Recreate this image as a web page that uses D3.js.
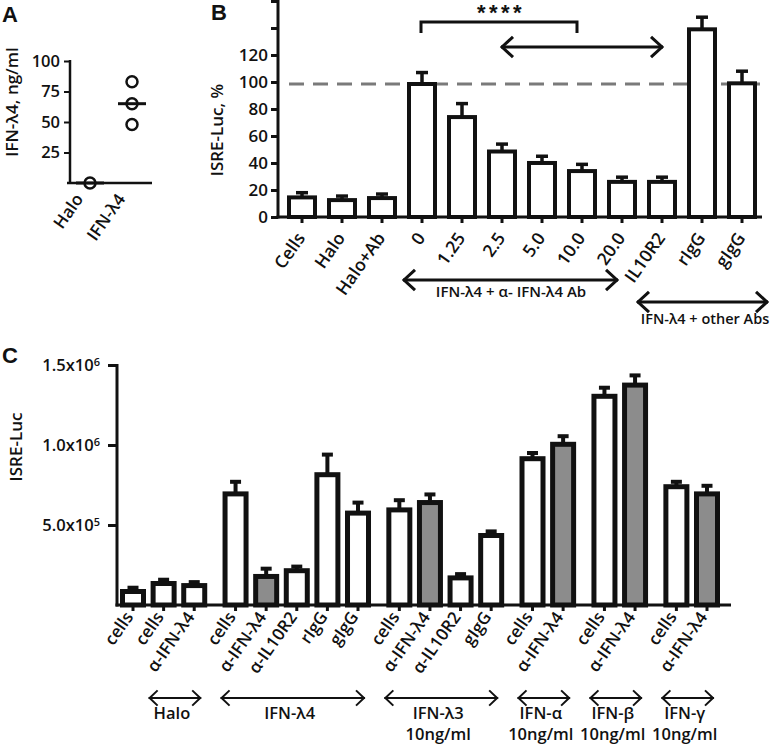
<!DOCTYPE html>
<html><head><meta charset="utf-8">
<script src="https://cdn.jsdelivr.net/npm/d3@7"></script>
<style>
body{margin:0;background:#fff}
text{font-family:"Open Sans",sans-serif;fill:#111}
</style>
</head><body>
<svg id="chart" width="771" height="745"></svg>
<script>
// ---------- Panel A data ----------
const aCategories = ["Halo", "IFN-λ4"];
const aPointGroup = ["Halo", "IFN-λ4", "IFN-λ4", "IFN-λ4"];
const aPointValue = [0, 83, 65, 48];
const aMedian = [0, 65];
const aTicks = [25, 50, 75, 100];

// ---------- Panel B data ----------
const bCategories = ["Cells","Halo","Halo+Ab","0","1.25","2.5","5.0","10.0","20.0","IL10R2","rIgG","gIgG"];
const bValues = [16, 14, 15.5, 100, 75.5, 50, 41.5, 35.5, 27.5, 27.5, 140.5, 100.5];
const bErrors = [2, 1.5, 1.5, 7, 8.5, 4, 3.5, 3.5, 2, 2, 7.5, 7.5];
const bTicks = [0, 20, 40, 60, 80, 100, 120, 140, 160];
const bTickLabels = ["0","20","40","60","80","100","120","",""];
const bReference = 98.5;

// ---------- Panel C data ----------
const cCategories = ["cells","cells","α-IFN-λ4","cells","α-IFN-λ4","α-IL10R2","rIgG","gIgG","cells","α-IFN-λ4","α-IL10R2","gIgG","cells","α-IFN-λ4","cells","α-IFN-λ4","cells","α-IFN-λ4"];
const cCluster = [0,0,0,1,1,1,1,1,2,2,2,2,3,3,4,4,5,5];
const cValues = [0.10e6,0.15e6,0.137e6,0.71e6,0.194e6,0.23e6,0.83e6,0.59e6,0.61e6,0.656e6,0.185e6,0.45e6,0.93e6,1.02e6,1.32e6,1.39e6,0.755e6,0.71e6];
const cErrors = [0.008e6,0.008e6,0.006e6,0.06e6,0.033e6,0.01e6,0.11e6,0.05e6,0.045e6,0.035e6,0.008e6,0.01e6,0.02e6,0.035e6,0.038e6,0.045e6,0.015e6,0.035e6];
const cAntiIFN = [false,false,false,false,true,false,false,false,false,true,false,false,false,true,false,true,false,true];
const cTicks = [0.5e6, 1.0e6, 1.5e6];
const cGroupNames = ["Halo","IFN-λ4","IFN-λ3","IFN-α","IFN-β","IFN-γ"];
const cGroupSub = ["","","10ng/ml","10ng/ml","10ng/ml","10ng/ml"];
const cGroupFirst = [1,3,8,12,14,16];
const cGroupLast = [2,7,11,13,15,17];

const svg = d3.select("#chart");
const INK = "#111";
const GRAY = "#8c8c8c";
const ANG = -55;

function doubleArrow(g, x1, x2, y, head, sw) {
  g.append("line").attr("x1", x1).attr("x2", x2).attr("y1", y).attr("y2", y)
    .attr("stroke", INK).attr("stroke-width", sw);
  const p = d3.path();
  p.moveTo(x1 + head, y - head * 0.85); p.lineTo(x1 + 1, y); p.lineTo(x1 + head, y + head * 0.85);
  p.moveTo(x2 - head, y - head * 0.85); p.lineTo(x2 - 1, y); p.lineTo(x2 - head, y + head * 0.85);
  g.append("path").attr("d", p.toString()).attr("fill", "none")
    .attr("stroke", INK).attr("stroke-width", sw).attr("stroke-linejoin", "miter");
}

// panel letters
[["A", 2, 22], ["B", 211, 20], ["C", 2, 363]].forEach(([t, x, y]) =>
  svg.append("text").attr("x", x).attr("y", y).text(t)
    .style("font-family", "Liberation Sans, Arial, sans-serif")
    .style("font-weight", "bold").style("font-size", "22px"));

// ================= Panel A =================
{
  const g = svg.append("g");
  const y = d3.scaleLinear().domain([0, 100]).range([183, 61]);
  const x = d3.scalePoint().domain(aCategories).range([69, 153]).padding(0.5);
  const ax = g.append("g").attr("transform", "translate(70,0)")
    .call(d3.axisLeft(y).tickValues(aTicks).tickSize(6).tickSizeOuter(0).tickPadding(4));
  ax.select(".domain").remove();
  ax.selectAll(".tick line").attr("stroke", INK).attr("stroke-width", 2);
  ax.selectAll(".tick text").style("font-size", "16.5px").style("font-weight", 600).style("font-family", "Open Sans");
  g.append("line").attr("x1", 70).attr("x2", 70).attr("y1", 60).attr("y2", 184).attr("stroke", INK).attr("stroke-width", 2.5);
  g.append("line").attr("x1", 67).attr("x2", 152).attr("y1", 183).attr("y2", 183).attr("stroke", INK).attr("stroke-width", 2.5);
  g.selectAll("line.med").data(aCategories).join("line").attr("class", "med")
    .attr("x1", d => x(d) - 14).attr("x2", d => x(d) + 14)
    .attr("y1", (d, i) => y(aMedian[i])).attr("y2", (d, i) => y(aMedian[i]))
    .attr("stroke", INK).attr("stroke-width", 3);
  g.selectAll("circle").data(aPointValue).join("circle")
    .attr("cx", (d, i) => x(aPointGroup[i])).attr("cy", d => y(d)).attr("r", 5.5)
    .attr("fill", "none").attr("stroke", INK).attr("stroke-width", 2.5);
  g.selectAll("text.xl").data(aCategories).join("text").attr("class", "xl")
    .attr("transform", d => `translate(${x(d) - 6},${199}) rotate(${ANG})`)
    .attr("text-anchor", "end").style("font-size", "17px").style("font-weight", 600).text(d => d);
  g.append("text").attr("transform", "translate(18,102) rotate(-90)").attr("text-anchor", "middle")
    .style("font-size", "17px").style("font-weight", 600).text("IFN-λ4, ng/ml");
}

// ================= Panel B =================
{
  const g = svg.append("g");
  const y = d3.scaleLinear().domain([0, 160]).range([217, 1]);
  const x = d3.scaleBand().domain(bCategories).range([282, 762]).paddingInner(0.25).paddingOuter(0.125);
  const bw = x.bandwidth(), sw = 4;
  const ay = g.append("g").attr("transform", "translate(278,0)")
    .call(d3.axisLeft(y).tickValues(bTicks).tickFormat((d, i) => bTickLabels[i]).tickSize(7).tickSizeOuter(0).tickPadding(3));
  ay.select(".domain").remove();
  ay.selectAll(".tick line").attr("stroke", INK).attr("stroke-width", 3);
  ay.selectAll(".tick text").style("font-size", "17px").style("font-weight", 600).style("font-family", "Open Sans");
  g.append("line").attr("x1", 289).attr("x2", 766).attr("y1", y(bReference)).attr("y2", y(bReference))
    .attr("stroke", "#7a7a7a").attr("stroke-width", 3).attr("stroke-dasharray", "15,9");
  g.selectAll("rect").data(bValues).join("rect")
    .attr("x", (d, i) => x(bCategories[i]) + sw / 2).attr("width", bw - sw)
    .attr("y", d => y(d) + sw / 2).attr("height", d => y(0) - y(d) - sw / 2)
    .attr("fill", "#fff").attr("stroke", INK).attr("stroke-width", sw);
  const cx = c => x(c) + bw / 2;
  g.selectAll("line.err").data(bValues).join("line").attr("class", "err")
    .attr("x1", (d, i) => cx(bCategories[i])).attr("x2", (d, i) => cx(bCategories[i]))
    .attr("y1", d => y(d) + 1).attr("y2", (d, i) => y(d + bErrors[i]))
    .attr("stroke", INK).attr("stroke-width", 3.5);
  g.selectAll("line.cap").data(bValues).join("line").attr("class", "cap")
    .attr("x1", (d, i) => cx(bCategories[i]) - 6).attr("x2", (d, i) => cx(bCategories[i]) + 6)
    .attr("y1", (d, i) => y(d + bErrors[i])).attr("y2", (d, i) => y(d + bErrors[i]))
    .attr("stroke", INK).attr("stroke-width", 3.5);
  g.append("line").attr("x1", 278).attr("x2", 278).attr("y1", 0).attr("y2", 218.5).attr("stroke", INK).attr("stroke-width", 3);
  g.append("line").attr("x1", 276.5).attr("x2", 762).attr("y1", 217).attr("y2", 217).attr("stroke", INK).attr("stroke-width", 3);
  g.selectAll("line.xt").data(bCategories).join("line").attr("class", "xt")
    .attr("x1", d => cx(d)).attr("x2", d => cx(d)).attr("y1", 217).attr("y2", 223)
    .attr("stroke", INK).attr("stroke-width", 3);
  g.selectAll("text.xl").data(bCategories).join("text").attr("class", "xl")
    .attr("transform", d => `translate(${cx(d) + 4},${238}) rotate(${ANG})`)
    .attr("text-anchor", "end").style("font-size", "17.5px").style("font-weight", 600).text(d => d);
  g.append("text").attr("transform", "translate(223,130) rotate(-90)").attr("text-anchor", "middle")
    .style("font-size", "17px").style("font-weight", 600).text("ISRE-Luc, %");
  const bx1 = cx("0") - 1, bx2 = cx("10.0") - 5;
  g.append("path").attr("d", `M${bx1},33V22H${bx2}V33`).attr("fill", "none")
    .attr("stroke", INK).attr("stroke-width", 3);
  g.append("text").attr("x", (bx1 + bx2) / 2 + 2).attr("y", 20).attr("text-anchor", "middle")
    .style("font-size", "22px").style("font-weight", 700).style("letter-spacing", "3.5px")
    .style("font-family", "Liberation Sans").text("****");
  doubleArrow(g, cx("2.5") - 1, cx("IL10R2") + 1, 47, 12, 3);
  doubleArrow(g, x("0") - 4, cx("20.0") - 4, 280, 12, 3);
  g.append("text").attr("x", 511).attr("y", 297).attr("text-anchor", "middle")
    .style("font-size", "15px").style("font-weight", 600).text("IFN-λ4 + α- IFN-λ4 Ab");
  doubleArrow(g, x("20.0") + bw, 768, 302, 12, 3);
  g.append("text").attr("x", 705).attr("y", 324).attr("text-anchor", "middle")
    .style("font-size", "14.5px").style("font-weight", 600).text("IFN-λ4 + other Abs");
}

// ================= Panel C =================
{
  const g = svg.append("g");
  const y = d3.scaleLinear().domain([0, 1.5e6]).range([605, 365]);
  const slot = (i) => i + 0.35 * cCluster[i];
  const x = d3.scaleLinear().domain([0, slot(cCategories.length - 1)]).range([133, 707]);
  const bw = 26, sw = 5;
  const ay = g.append("g").attr("transform", "translate(117,0)")
    .call(d3.axisLeft(y).tickValues(cTicks).tickSize(9).tickSizeOuter(0).tickPadding(8).tickFormat(() => ""));
  ay.select(".domain").remove();
  ay.selectAll(".tick line").attr("stroke", INK).attr("stroke-width", 3);
  ay.selectAll(".tick text").each(function (d) {
    const e = Math.floor(Math.log10(d));
    const m = (d / Math.pow(10, e)).toFixed(1);
    const t = d3.select(this).style("font-size", "16.5px").style("font-weight", 600).style("font-family", "Open Sans");
    t.append("tspan").text(m + "x10");
    t.append("tspan").attr("dy", "-0.45em").style("font-size", "11px").text(e);
  });
  g.append("line").attr("x1", 117).attr("x2", 117).attr("y1", 364).attr("y2", 606.5).attr("stroke", INK).attr("stroke-width", 3);
  g.append("line").attr("x1", 115.5).attr("x2", 731).attr("y1", 605).attr("y2", 605).attr("stroke", INK).attr("stroke-width", 3);
  g.selectAll("rect").data(cValues).join("rect")
    .attr("x", (d, i) => x(slot(i)) - bw / 2 + sw / 2).attr("width", bw - sw)
    .attr("y", d => y(d) + sw / 2).attr("height", d => y(0) - y(d) - sw / 2)
    .attr("fill", (d, i) => cAntiIFN[i] ? GRAY : "#fff").attr("stroke", INK).attr("stroke-width", sw);
  g.selectAll("line.err").data(cValues).join("line").attr("class", "err")
    .attr("x1", (d, i) => x(slot(i))).attr("x2", (d, i) => x(slot(i)))
    .attr("y1", d => y(d) + 1).attr("y2", (d, i) => y(d + cErrors[i]))
    .attr("stroke", INK).attr("stroke-width", 4);
  g.selectAll("line.cap").data(cValues).join("line").attr("class", "cap")
    .attr("x1", (d, i) => x(slot(i)) - 5.5).attr("x2", (d, i) => x(slot(i)) + 5.5)
    .attr("y1", (d, i) => y(d + cErrors[i])).attr("y2", (d, i) => y(d + cErrors[i]))
    .attr("stroke", INK).attr("stroke-width", 4);
  g.selectAll("line.xt").data(cCategories).join("line").attr("class", "xt")
    .attr("x1", (d, i) => x(slot(i))).attr("x2", (d, i) => x(slot(i))).attr("y1", 605).attr("y2", 611)
    .attr("stroke", INK).attr("stroke-width", 3);
  g.selectAll("text.xl").data(cCategories).join("text").attr("class", "xl")
    .attr("transform", (d, i) => `translate(${x(slot(i)) + 1},${617}) rotate(${ANG})`)
    .attr("text-anchor", "end").style("font-size", "17px").style("font-weight", 600).text(d => d);
  g.append("text").attr("transform", "translate(22,447) rotate(-90)").attr("text-anchor", "middle")
    .style("font-size", "17px").style("font-weight", 600).text("ISRE-Luc");
  cGroupNames.forEach((name, k) => {
    const x1 = x(slot(cGroupFirst[k])) - 15, x2 = x(slot(cGroupLast[k])) + 7;
    doubleArrow(g, x1, x2, 698, 9, 2);
    g.append("text").attr("x", (x1 + x2) / 2 - 3).attr("y", 719).attr("text-anchor", "middle")
      .style("font-size", "16.5px").style("font-weight", 600).text(name);
    if (cGroupSub[k]) g.append("text").attr("x", (x1 + x2) / 2 - 3).attr("y", 740).attr("text-anchor", "middle")
      .style("font-size", "16.5px").style("font-weight", 600).text(cGroupSub[k]);
  });
}
</script>
</body></html>
